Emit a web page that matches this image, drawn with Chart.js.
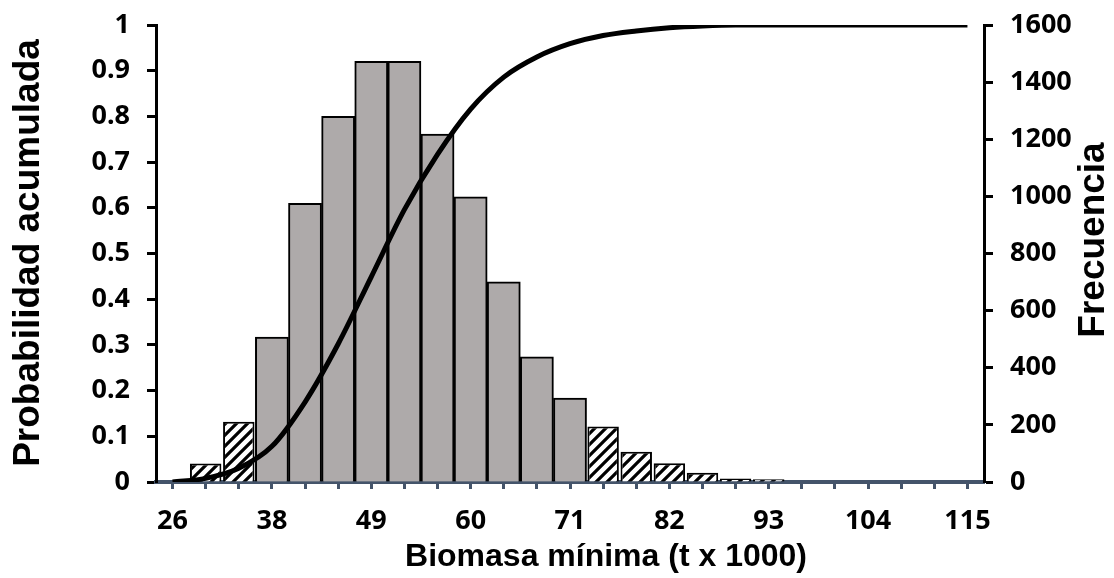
<!DOCTYPE html>
<html>
<head>
<meta charset="utf-8">
<script src="https://cdn.jsdelivr.net/npm/chart.js@4.4.1/dist/chart.umd.min.js"></script>
<style>
  html, body { margin: 0; padding: 0; background: #fff; }
</style>
</head>
<body>
<canvas id="chart" width="1114" height="578"></canvas>
<script>
// clases del histograma (biomasa minima, t x 1000)
const clases = ['26','30','34','38','41','45','49','52','56','60','63','67','71','75','78','82','86','89','93','97','100','104','108','111','115'];
const etiquetasX = ['26','38','49','60','71','82','93','104','115'];

// frecuencias: parte central (gris) y colas (rayado)
const frecCentro = [null,null,null,507,976,1280,1473,1473,1218,998,701,438,294,null,null,null,null,null,null,null,null,null,null,null,null];
const frecColas  = [null,65,211,null,null,null,null,null,null,null,null,null,null,194,106,66,32,12,10,null,null,null,null,null,null];

// probabilidad acumulada
const probAcum = [0,0.008,0.03,0.078,0.175,0.302,0.449,0.596,0.717,0.816,0.886,0.93,0.959,0.977,0.987,0.994,0.998,1,1,1,1,1,1,1,1];

const fuenteTicks = { family: '"Noto Sans", sans-serif', size: 27, weight: 'bold' };

function rayado() {
    const c = document.createElement('canvas');
    c.width = 11; c.height = 11;
    const g = c.getContext('2d');
    g.fillStyle = '#fff';
    g.fillRect(0, 0, 11, 11);
    g.strokeStyle = '#000';
    g.lineWidth = 3.2;
    g.beginPath();
    g.moveTo(0, 11); g.lineTo(11, 0);
    g.moveTo(-5.5, 5.5); g.lineTo(5.5, -5.5);
    g.moveTo(5.5, 16.5); g.lineTo(16.5, 5.5);
    g.stroke();
    return g.createPattern(c, 'repeat');
}

// titulos de ejes dibujados a mano (el de la derecha se lee de abajo hacia arriba)
const titulos = {
    id: 'titulos',
    afterDraw(chart) {
        const ctx = chart.ctx;
        ctx.save();
        ctx.fillStyle = '#000';
        ctx.textAlign = 'center';
        ctx.textBaseline = 'middle';
        ctx.font = 'bold 32px "Liberation Sans", Arial, sans-serif';
        ctx.fillText('Biomasa mínima (t x 1000)', 606, 557);
        ctx.font = 'bold 37px "Liberation Sans", Arial, sans-serif';
        ctx.save();
        ctx.translate(29, 253);
        ctx.rotate(-Math.PI / 2);
        ctx.fillText('Probabilidad acumulada', 0, 0);
        ctx.restore();
        ctx.translate(1094, 240);
        ctx.rotate(-Math.PI / 2);
        ctx.fillText('Frecuencia', 0, 0);
        ctx.restore();
    }
};

// ancho fijo de los ejes verticales, sin el margen extra de la etiqueta superior
function ejeVertical(ancho) {
    return s => {
        s.width = ancho;
        s.paddingTop = 0;
        s.paddingBottom = 0;
    };
}

const ctx = document.getElementById('chart').getContext('2d');
const chart = new Chart(ctx, {
    type: 'bar',
    data: {
        labels: clases,
        datasets: [
            {
                type: 'line',
                label: 'Probabilidad acumulada',
                data: probAcum,
                yAxisID: 'y',
                borderColor: '#000',
                borderWidth: 5,
                pointRadius: 0,
                cubicInterpolationMode: 'monotone',
                order: 0
            },
            {
                label: 'Frecuencia',
                data: frecCentro,
                yAxisID: 'y1',
                backgroundColor: '#aeaaaa',
                borderColor: '#000',
                borderWidth: 2,
                grouped: false,
                categoryPercentage: 1,
                barPercentage: 1,
                order: 1
            },
            {
                label: 'Frecuencia (colas)',
                data: frecColas,
                yAxisID: 'y1',
                backgroundColor: rayado(),
                borderColor: '#000',
                borderWidth: 2,
                grouped: false,
                categoryPercentage: 1,
                barPercentage: 0.95,
                order: 1
            }
        ]
    },
    options: {
        responsive: false,
        animation: false,
        layout: { padding: { top: 25, left: 0, right: 0, bottom: 0 } },
        plugins: { legend: { display: false }, tooltip: { enabled: false } },
        scales: {
            x: {
                offset: true,
                grid: { offset: false, drawOnChartArea: false, tickLength: 7, tickWidth: 3, tickColor: '#44546a' },
                border: { color: '#44546a', width: 4 },
                ticks: {
                    autoSkip: false,
                    maxRotation: 0,
                    padding: 16,
                    color: '#000',
                    font: fuenteTicks,
                    callback: (v, i) => i % 3 === 0 ? etiquetasX[i / 3] : ''
                },
                afterFit: s => { s.height = 96; }
            },
            y: {
                position: 'left',
                min: 0,
                max: 1,
                ticks: {
                    stepSize: 0.1,
                    padding: 17,
                    color: '#000',
                    font: fuenteTicks,
                    callback: v => String(Math.round(v * 10) / 10)
                },
                grid: { drawOnChartArea: false, tickLength: 9, tickWidth: 3, tickColor: '#000' },
                border: { color: '#000', width: 3 },
                afterFit: ejeVertical(156)
            },
            y1: {
                position: 'right',
                min: 0,
                max: 1600,
                ticks: {
                    stepSize: 200,
                    padding: 17,
                    color: '#000',
                    font: fuenteTicks,
                    callback: v => String(v)
                },
                grid: { drawOnChartArea: false, tickLength: 9, tickWidth: 3, tickColor: '#000' },
                border: { color: '#000', width: 3 },
                afterFit: ejeVertical(130)
            }
        }
    },
    plugins: [titulos]
});
</script>
</body>
</html>
